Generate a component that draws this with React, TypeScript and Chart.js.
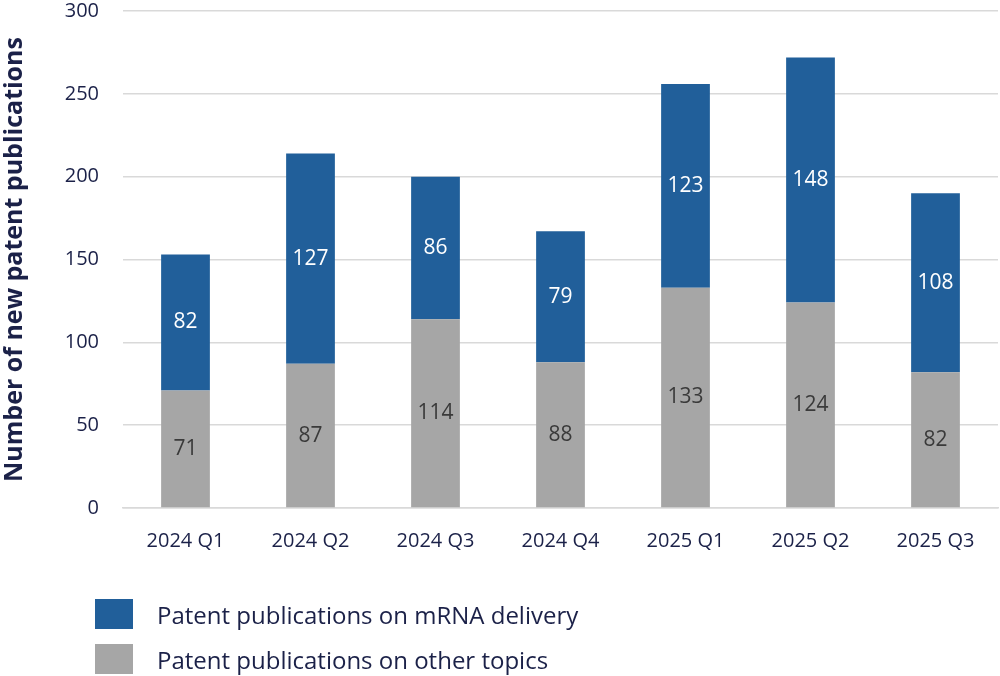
import React, { useEffect, useRef } from "react";
import { Chart, registerables } from "chart.js";

Chart.register(...registerables);

const categories = ["2024 Q1", "2024 Q2", "2024 Q3", "2024 Q4", "2025 Q1", "2025 Q2", "2025 Q3"];
const otherTopics = [71, 87, 114, 88, 133, 124, 82];
const mrnaDelivery = [82, 127, 86, 79, 123, 148, 108];
const yTicks = [0, 50, 100, 150, 200, 250, 300];

const NAVY = "#1b2148";
const BLUE = "#215f9a";
const GRAY = "#a6a6a6";
const FONT = "'Open Sans', Roboto, sans-serif";

const seriesList = [
  { label: "Patent publications on mRNA delivery", data: mrnaDelivery, color: BLUE, text: "#ffffff" },
  { label: "Patent publications on other topics", data: otherTopics, color: GRAY, text: "#3a3a3a" },
];

const labelPlugin = {
  id: "segLabels",
  afterDatasetsDraw(chart: any) {
    const ctx = chart.ctx;
    ctx.save();
    ctx.font = `21px ${FONT}`;
    ctx.textAlign = "center";
    ctx.textBaseline = "middle";
    chart.data.datasets.forEach((ds: any, di: number) => {
      const meta = chart.getDatasetMeta(di);
      meta.data.forEach((bar: any, i: number) => {
        const { x, y, base } = bar.getProps(["x", "y", "base"], true);
        ctx.fillStyle = ds.labelColor;
        ctx.fillText(String(ds.data[i]), x, (y + base) / 2);
      });
    });
    ctx.restore();
  },
};

export default function App() {
  const ref = useRef<HTMLCanvasElement>(null);
  useEffect(() => {
    if (!ref.current) return;
    const chart = new Chart(ref.current, {
      type: "bar",
      data: {
        labels: categories,
        datasets: [
          {
            label: seriesList[1].label,
            data: otherTopics,
            backgroundColor: GRAY,
            borderWidth: 0,
            labelColor: seriesList[1].text,
          } as any,
          {
            label: seriesList[0].label,
            data: mrnaDelivery,
            backgroundColor: BLUE,
            borderWidth: 0,
            labelColor: seriesList[0].text,
          } as any,
        ],
      },
      options: {
        animation: false,
        responsive: false,
        layout: { padding: { top: 11, right: 2, left: 0, bottom: 0 } },
        plugins: { legend: { display: false }, tooltip: { enabled: false } },
        datasets: { bar: { barPercentage: 0.39, categoryPercentage: 1 } },
        scales: {
          x: {
            stacked: true,
            grid: { display: false },
            border: { color: "#d9d9d9", width: 1.5 },
            ticks: { color: NAVY, font: { family: FONT, size: 20 }, padding: 13 },
            afterFit: (s: any) => { s.height = 52; s.paddingLeft = 0; s.paddingRight = 0; },
          },
          y: {
            stacked: true,
            min: 0,
            max: 300,
            afterBuildTicks: (s: any) => { s.ticks = yTicks.map((v) => ({ value: v })); },
            grid: { color: "#d9d9d9", lineWidth: 1.5, drawTicks: false },
            border: { display: false },
            ticks: { color: NAVY, font: { family: FONT, size: 20 }, padding: 24 },
            title: {
              display: true,
              text: "Number of new patent publications",
              color: NAVY,
              font: { family: FONT, size: 25, weight: "bold" },
              padding: { top: 0, bottom: 2 },
            },
            afterFit: (s: any) => { s.width = 123; s.paddingTop = 0; s.paddingBottom = 0; },
          },
        },
      },
      plugins: [labelPlugin],
    });
    return () => chart.destroy();
  }, []);

  return (
    <div style={{ position: "fixed", left: 0, top: 0, width: 1000, height: 676, background: "#fff", fontFamily: FONT }}>
      <canvas ref={ref} width={1000} height={560} style={{ display: "block" }} />
      <div style={{ position: "absolute", left: 95, top: 599 }}>
        {seriesList.map((s) => (
          <div key={s.label} style={{ display: "flex", alignItems: "center", height: 30, marginBottom: 15 }}>
            <div style={{ width: 38, height: 30, background: s.color }} />
            <span style={{ marginLeft: 24, fontSize: 24, color: NAVY }}>{s.label}</span>
          </div>
        ))}
      </div>
    </div>
  );
}
